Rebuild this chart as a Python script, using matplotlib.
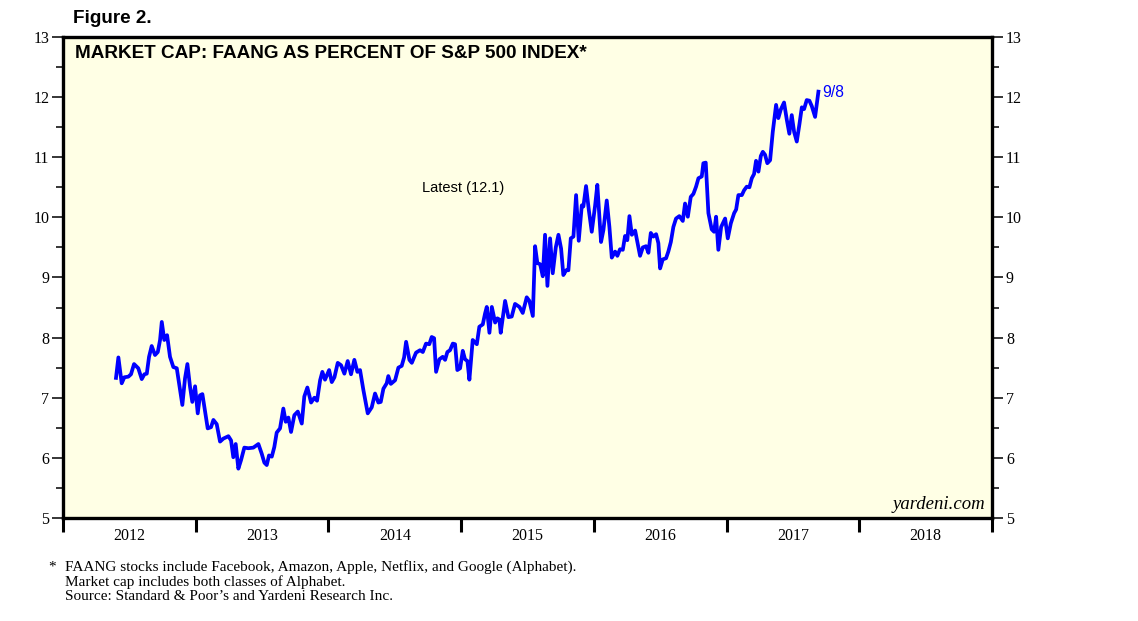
import matplotlib.pyplot as plt
import numpy as np

# FAANG market cap as % of S&P 500 (x in decimal years)
years = [2012.399, 2012.417, 2012.442, 2012.462, 2012.492, 2012.512, 2012.535, 2012.567, 2012.593, 2012.613,
         2012.631, 2012.648, 2012.668, 2012.693, 2012.714, 2012.731, 2012.744, 2012.763, 2012.784, 2012.806,
         2012.831, 2012.857, 2012.882, 2012.899, 2012.919, 2012.937, 2012.957, 2012.974, 2012.995, 2013.015,
         2013.032, 2013.050, 2013.070, 2013.090, 2013.115, 2013.133, 2013.158, 2013.183, 2013.208, 2013.246,
         2013.266, 2013.283, 2013.301, 2013.321, 2013.341, 2013.366, 2013.396, 2013.434, 2013.472, 2013.497,
         2013.517, 2013.535, 2013.552, 2013.573, 2013.592, 2013.610, 2013.635, 2013.660, 2013.678, 2013.698,
         2013.718, 2013.743, 2013.769, 2013.799, 2013.818, 2013.841, 2013.869, 2013.894, 2013.914, 2013.937,
         2013.954, 2013.974, 2014.005, 2014.025, 2014.045, 2014.070, 2014.095, 2014.120, 2014.145, 2014.170,
         2014.195, 2014.218, 2014.238, 2014.263, 2014.296, 2014.326, 2014.351, 2014.376, 2014.394, 2014.414,
         2014.439, 2014.451, 2014.470, 2014.502, 2014.527, 2014.552, 2014.570, 2014.585, 2014.610, 2014.628,
         2014.660, 2014.690, 2014.711, 2014.735, 2014.760, 2014.778, 2014.796, 2014.811, 2014.836, 2014.861,
         2014.879, 2014.896, 2014.916, 2014.937, 2014.954, 2014.971, 2014.992, 2015.012, 2015.029, 2015.047,
         2015.062, 2015.087, 2015.118, 2015.137, 2015.163, 2015.180, 2015.193, 2015.213, 2015.231, 2015.256,
         2015.273, 2015.288, 2015.298, 2015.331, 2015.356, 2015.381, 2015.406, 2015.439, 2015.464, 2015.494,
         2015.514, 2015.540, 2015.557, 2015.574, 2015.595, 2015.615, 2015.632, 2015.650, 2015.670, 2015.690,
         2015.713, 2015.733, 2015.753, 2015.770, 2015.791, 2015.808, 2015.826, 2015.846, 2015.866, 2015.886,
         2015.909, 2015.921, 2015.941, 2015.962, 2015.984, 2016.009, 2016.026, 2016.054, 2016.072, 2016.097,
         2016.117, 2016.135, 2016.160, 2016.177, 2016.197, 2016.218, 2016.235, 2016.252, 2016.268, 2016.286,
         2016.311, 2016.328, 2016.348, 2016.369, 2016.393, 2016.411, 2016.429, 2016.448, 2016.469, 2016.486,
         2016.499, 2016.519, 2016.544, 2016.561, 2016.580, 2016.599, 2016.619, 2016.644, 2016.670, 2016.687,
         2016.708, 2016.730, 2016.750, 2016.770, 2016.788, 2016.813, 2016.825, 2016.843, 2016.863, 2016.888,
         2016.906, 2016.921, 2016.938, 2016.959, 2016.989, 2017.009, 2017.032, 2017.057, 2017.072, 2017.089,
         2017.115, 2017.132, 2017.152, 2017.172, 2017.190, 2017.207, 2017.222, 2017.240, 2017.258, 2017.273,
         2017.290, 2017.307, 2017.328, 2017.348, 2017.373, 2017.390, 2017.408, 2017.433, 2017.454, 2017.473,
         2017.491, 2017.509, 2017.529, 2017.549, 2017.567, 2017.584, 2017.604, 2017.624, 2017.642, 2017.667,
         2017.692]
faang_pct = [7.33, 7.67, 7.24, 7.34, 7.35, 7.39, 7.56, 7.49, 7.31, 7.39,
             7.40, 7.68, 7.86, 7.71, 7.76, 7.96, 8.26, 7.96, 8.04, 7.68,
             7.51, 7.49, 7.13, 6.88, 7.32, 7.56, 7.18, 6.93, 7.19, 6.74,
             7.04, 7.06, 6.77, 6.49, 6.51, 6.63, 6.56, 6.27, 6.32, 6.36,
             6.29, 6.01, 6.23, 5.82, 5.96, 6.17, 6.16, 6.17, 6.23, 6.07,
             5.92, 5.88, 6.04, 6.02, 6.18, 6.42, 6.49, 6.82, 6.60, 6.67,
             6.43, 6.71, 6.77, 6.57, 7.02, 7.17, 6.92, 7.00, 6.95, 7.29,
             7.43, 7.30, 7.46, 7.26, 7.34, 7.58, 7.54, 7.40, 7.61, 7.39,
             7.63, 7.43, 7.46, 7.13, 6.74, 6.84, 7.07, 6.92, 6.93, 7.15,
             7.24, 7.36, 7.23, 7.29, 7.50, 7.53, 7.67, 7.93, 7.63, 7.58,
             7.75, 7.79, 7.76, 7.90, 7.89, 8.01, 7.99, 7.43, 7.64, 7.68,
             7.63, 7.76, 7.79, 7.90, 7.89, 7.46, 7.49, 7.78, 7.64, 7.61,
             7.30, 7.96, 7.89, 8.18, 8.22, 8.40, 8.51, 8.08, 8.51, 8.25,
             8.32, 8.30, 8.08, 8.61, 8.34, 8.35, 8.56, 8.51, 8.41, 8.67,
             8.61, 8.36, 9.52, 9.24, 9.22, 9.02, 9.71, 8.86, 9.65, 9.07,
             9.50, 9.71, 9.48, 9.04, 9.12, 9.12, 9.65, 9.68, 10.37, 9.61,
             10.20, 10.18, 10.52, 10.12, 9.76, 10.19, 10.54, 9.59, 9.79, 10.28,
             9.84, 9.33, 9.43, 9.36, 9.47, 9.46, 9.69, 9.62, 10.02, 9.71,
             9.78, 9.59, 9.36, 9.50, 9.52, 9.41, 9.74, 9.68, 9.72, 9.57,
             9.15, 9.30, 9.32, 9.43, 9.59, 9.84, 9.98, 10.02, 9.94, 10.23,
             10.01, 10.34, 10.39, 10.51, 10.65, 10.68, 10.90, 10.91, 10.07, 9.80,
             9.76, 10.01, 9.46, 9.84, 9.98, 9.65, 9.90, 10.07, 10.13, 10.37,
             10.37, 10.45, 10.51, 10.50, 10.65, 10.72, 10.94, 10.76, 11.02, 11.09,
             11.04, 10.90, 10.95, 11.42, 11.87, 11.65, 11.79, 11.91, 11.62, 11.39,
             11.70, 11.42, 11.26, 11.55, 11.83, 11.80, 11.95, 11.94, 11.85, 11.67,
             12.09]

year_labels = ['2012', '2013', '2014', '2015', '2016', '2017', '2018']
latest_label = '9/8'

fig = plt.figure(figsize=(11.38, 6.21), dpi=100)
ax = fig.add_axes([0.0554, 0.1659, 0.8163, 0.7746])
ax.set_facecolor('#FFFFE5')

ax.plot(years, faang_pct, color='#0000FF', linewidth=2.7, solid_joinstyle='round')

ax.set_xlim(2012, 2019)
ax.set_ylim(5, 13)

for s in ax.spines.values():
    s.set_linewidth(2.4)

### y axis both sides
ax.set_yticks(np.arange(5, 14, 1))
ax.set_yticks(np.arange(5.5, 13, 1), minor=True)
ax.tick_params(axis='y', which='major', direction='out', length=8, width=1.1,
               left=True, right=True, labelleft=True, labelright=True, labelsize=11.5, pad=2)
ax.tick_params(axis='y', which='minor', direction='out', length=5, width=1.1, left=True, right=True)
for lab in ax.get_yticklabels():
    lab.set_family('Liberation Serif')

### x axis: ticks at year boundaries, labels in the middle
ax.set_xticks(np.arange(2012, 2020, 1))
ax.set_xticklabels([''] * 8)
ax.set_xticks(np.arange(2012.5, 2019, 1), minor=True)
ax.set_xticklabels(year_labels, minor=True, family='Liberation Serif', fontsize=11.5)
ax.tick_params(axis='x', which='major', direction='out', length=10, width=2.2)
ax.tick_params(axis='x', which='minor', length=0, pad=7)

ax.text(0.013, 0.983, 'MARKET CAP: FAANG AS PERCENT OF S&P 500 INDEX*', transform=ax.transAxes,
        ha='left', va='top', fontsize=13.6, fontweight='bold', family='Liberation Sans')
ax.text(0.431, 0.686, 'Latest (12.1)', transform=ax.transAxes, ha='center', va='center',
        fontsize=10.5, family='Liberation Sans')
ax.annotate(latest_label, xy=(years[-1], faang_pct[-1]), xytext=(2.5, -0.5), textcoords='offset points',
            ha='left', va='center', color='#0000FF', fontsize=11.3, family='Liberation Sans')
ax.text(0.993, 0.010, 'yardeni.com', transform=ax.transAxes, ha='right', va='bottom',
        fontsize=13.5, style='italic', family='Liberation Serif')

fig.text(0.064, 0.971, 'Figure 2.', ha='left', va='center', fontsize=13.6, fontweight='bold',
         family='Liberation Sans')

fig.text(0.042, 0.087, '*', ha='left', va='center', fontsize=11, family='Liberation Serif')
fig.text(0.057, 0.087, 'FAANG stocks include Facebook, Amazon, Apple, Netflix, and Google (Alphabet).',
         ha='left', va='center', fontsize=11, family='Liberation Serif')
fig.text(0.057, 0.063, 'Market cap includes both classes of Alphabet.',
         ha='left', va='center', fontsize=11, family='Liberation Serif')
fig.text(0.057, 0.039, 'Source: Standard & Poor\u2019s and Yardeni Research Inc.',
         ha='left', va='center', fontsize=11, family='Liberation Serif')

fig.savefig('out.png', dpi=100)
